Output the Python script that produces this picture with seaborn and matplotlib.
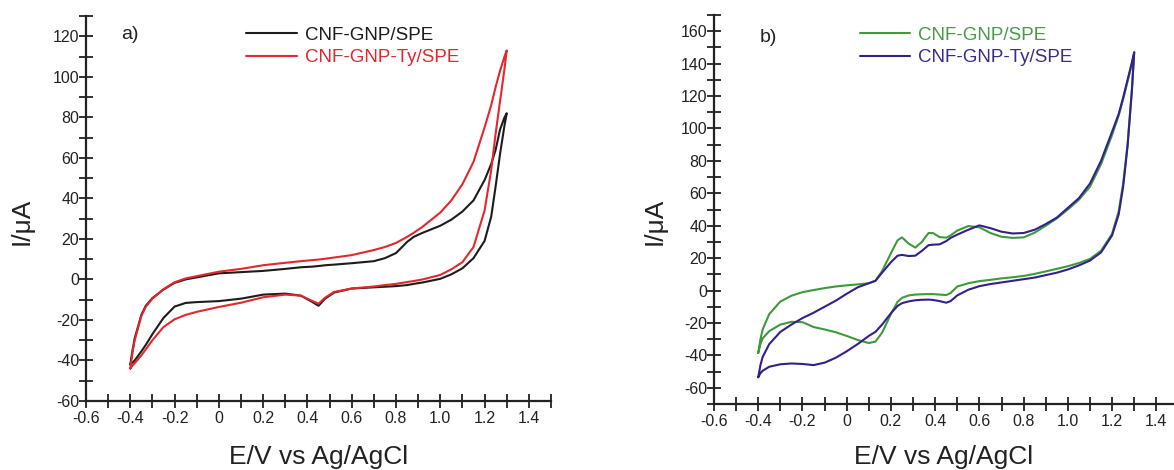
import numpy as np
import pandas as pd
import matplotlib
matplotlib.use("Agg")
import matplotlib.pyplot as plt
from matplotlib.ticker import MultipleLocator, FuncFormatter
import seaborn as sns

# ---------------- data ----------------
series_names = ["CNF-GNP/SPE", "CNF-GNP-Ty/SPE"]

# panel a: potential grid (V) used for both sweep directions
E_a = [-0.4, -0.39, -0.38, -0.35, -0.33, -0.3, -0.25, -0.2, -0.15, -0.1, 0.0,
       0.1, 0.2, 0.3, 0.37, 0.42, 0.45, 0.48, 0.52, 0.6, 0.7, 0.75, 0.8, 0.85,
       0.88, 0.92, 1.0, 1.05, 1.1, 1.15, 1.2, 1.23, 1.25, 1.27, 1.29, 1.3]
# anodic (upper) branch, -0.4 -> 1.3
I_a_black_fwd = [-42, -35, -29, -17.5, -13, -9.2, -5, -1.7, 0, 1, 3,
                 3.6, 4.2, 5.2, 6, 6.3, 6.6, 7, 7.3, 8, 9, 10.5, 13, 18.5,
                 21, 23, 26.5, 29.5, 33.5, 39, 49, 57, 64, 74, 80, 82]
I_a_red_fwd = [-44, -36, -30, -18, -13.5, -9.5, -4.8, -1.4, 0.5, 1.6, 3.8,
               5.2, 7, 8.2, 9, 9.5, 9.8, 10.2, 10.8, 12, 14.5, 16, 18, 21,
               23, 26, 33, 39, 47, 58, 75, 86, 95, 103, 110, 113]
# cathodic (lower) branch, values at the same E (swept back 1.3 -> -0.4)
I_a_black_rev = [-42, -41, -40, -35.5, -32.3, -27, -19, -13.4, -11.6, -11.2, -10.7,
                 -9.5, -7.5, -7, -8, -11, -13, -9.5, -6.5, -4.5, -3.9, -3.6, -3.3, -2.8,
                 -2.2, -1.5, 0.3, 2.5, 5.5, 10.5, 19, 31, 46, 62, 76, 82]
I_a_red_rev = [-44, -42.5, -41.3, -37.5, -34.5, -30, -23.5, -19.7, -17.5, -16, -13.6,
               -11.5, -8.8, -7.5, -8, -10.5, -12, -9, -6.2, -4.5, -3.5, -2.8, -2.2, -1.3,
               -0.8, 0, 2.2, 5, 8.5, 16, 34, 54, 72, 88, 104, 113]

# panel b
E_b = [-0.4, -0.39, -0.38, -0.35, -0.3, -0.25, -0.2, -0.15, -0.1, -0.05, 0.0, 0.05, 0.1,
       0.13, 0.16, 0.2, 0.23, 0.25, 0.28, 0.31, 0.34, 0.37, 0.39, 0.42, 0.45,
       0.47, 0.5, 0.55, 0.6, 0.65, 0.7, 0.75, 0.8, 0.85, 0.9, 0.95, 1.0,
       1.05, 1.1, 1.15, 1.2, 1.23, 1.25, 1.27, 1.29, 1.3]
I_b_green_fwd = [-38.5, -30, -24, -14.5, -6.8, -3.2, -1, 0.3, 1.5, 2.5, 3.2, 3.8, 4.5,
                 6, 12, 23, 31, 32.8, 29, 26.5, 30, 35.5, 35.5, 33, 32.6,
                 34, 37, 39.8, 39, 35.5, 33.2, 32.5, 32.8, 35.7, 40, 44.5, 50,
                 56, 64, 78, 96, 108, 118, 129, 140, 147]
I_b_purple_fwd = [-53.5, -46, -41, -33, -25.5, -21, -17, -13.7, -10, -6.3, -2, 2, 4.5,
                  6, 11, 17.5, 21.5, 22, 21.3, 21.5, 24.5, 28, 28.3, 28.5, 30.5,
                  32.5, 34.5, 37.5, 40.2, 38.5, 36.3, 35.2, 35.5, 37.5, 41, 45, 51,
                  57, 66, 80, 98, 109, 119, 130, 141, 147]
I_b_green_rev = [-38.5, -33, -29.5, -25, -21, -19.3, -19.5, -22.5, -24, -25.7, -28, -30.5, -32.4,
                 -31.5, -26, -14.5, -7, -4.5, -3, -2.5, -2.3, -2.2, -2.2, -2.5, -2.8,
                 -1.5, 2.5, 4.5, 5.8, 6.6, 7.5, 8.2, 9, 10.3, 11.8, 13.4, 15,
                 17, 19.5, 24.5, 35, 49, 66, 90, 125, 147]
I_b_purple_rev = [-53.5, -51, -49.5, -47, -45.5, -45, -45.3, -46, -44.5, -41.5, -37.5, -33, -28,
                  -25.5, -21, -14, -9.5, -7.8, -6.7, -6, -5.7, -5.6, -5.8, -6.5, -7.5,
                  -6.5, -3, 0.5, 2.7, 4, 5, 6, 7, 8, 9.5, 11, 13,
                  15.5, 18.5, 23.5, 34, 47, 64, 89, 124, 147]

# ---------------- style ----------------
sns.set_style("ticks")
plt.rcParams["font.family"] = ["Liberation Sans", "DejaVu Sans"]
plt.rcParams["axes.unicode_minus"] = False

FIG_W, FIG_H = 1174, 470
fig = plt.figure(figsize=(FIG_W / 100, FIG_H / 100), dpi=100)

def px_axes(left, top, right, bottom):
    return fig.add_axes([left / FIG_W, 1 - bottom / FIG_H,
                         (right - left) / FIG_W, (bottom - top) / FIG_H])

ax_a = px_axes(86, 16, 551, 401)
ax_b = px_axes(714, 15, 1174, 404)

def loop_frame(E, fwd, rev, name):
    E = list(E)
    x = E + E[::-1]
    y = list(fwd) + list(rev)[::-1]
    return pd.DataFrame({"E": x, "I": y, "series": name})

def draw(ax, E, fwd_list, rev_list, colors):
    for name, fwd, rev, c in zip(series_names, fwd_list, rev_list, colors):
        df = loop_frame(E, fwd, rev, name)
        sns.lineplot(data=df, x="E", y="I", sort=False, estimator=None,
                     color=c, lw=1.5, ax=ax, label=name)

cols_a = ["#1c1c1c", "#e2282c"]
cols_b = ["#3f9a3c", "#33208a"]
txt_a = ["#1c1c1c", "#e2282c"]
txt_b = ["#4a9a48", "#3a2d88"]

draw(ax_a, E_a, [I_a_black_fwd, I_a_red_fwd], [I_a_black_rev, I_a_red_rev], cols_a)
draw(ax_b, E_b, [I_b_green_fwd, I_b_purple_fwd], [I_b_green_rev, I_b_purple_rev], cols_b)

def fmt_x(v, pos):
    if abs(v) < 1e-9:
        return "0"
    return f"{v:.1f}"

def style(ax, xlim, ylim, ymajor, ylabel_x, ylabel_y, xlabel_y):
    ax.set_xlim(*xlim)
    ax.set_ylim(*ylim)
    for s in ["top", "right"]:
        ax.spines[s].set_visible(False)
    for s in ["left", "bottom"]:
        ax.spines[s].set_linewidth(1.6)
        ax.spines[s].set_color("#222222")
    ax.xaxis.set_major_locator(MultipleLocator(0.2))
    ax.xaxis.set_minor_locator(MultipleLocator(0.1))
    ax.xaxis.set_major_formatter(FuncFormatter(fmt_x))
    ax.yaxis.set_major_locator(MultipleLocator(ymajor))
    ax.yaxis.set_minor_locator(MultipleLocator(ymajor / 2))
    ax.tick_params(which="both", direction="inout", length=10, width=1.3,
                   color="#222222", labelsize=11.5, labelcolor="#222222")
    ax.tick_params(axis="y", pad=0)
    ax.tick_params(axis="x", pad=2)
    ax.set_xlabel("E/V vs Ag/AgCl", fontsize=19, color="#222222", va="top")
    ax.set_ylabel("I/\u03bcA", fontsize=19, color="#222222")
    ax.xaxis.set_label_coords(0.5, xlabel_y)
    ax.yaxis.set_label_coords(ylabel_x, ylabel_y)
    ax.set_facecolor("white")

style(ax_a, (-0.6, 1.5), (-60, 130), 20, -0.112, 0.468, -0.113)
style(ax_b, (-0.6, 1.48), (-70, 170), 20, -0.102, 0.47, -0.105)

def legend(ax, x0, y0, tcolors):
    leg = ax.legend(loc="upper left", bbox_to_anchor=(x0, y0), frameon=False,
                    fontsize=13.5, handlelength=2.7, handletextpad=0.4,
                    labelspacing=0.28, borderpad=0, borderaxespad=0)
    for t, c in zip(leg.get_texts(), tcolors):
        t.set_color(c)
    for h in leg.get_lines():
        h.set_linewidth(1.5)

legend(ax_a, 0.345, 0.972, txt_a)
legend(ax_b, 0.317, 0.97, txt_b)

ax_a.text(0.075, 0.951, "a)", transform=ax_a.transAxes, fontsize=14,
          va="center", ha="left", color="#222222")
ax_b.text(0.1, 0.943, "b)", transform=ax_b.transAxes, fontsize=14,
          va="center", ha="left", color="#222222")

fig.savefig("out.png", dpi=100, facecolor="white")
